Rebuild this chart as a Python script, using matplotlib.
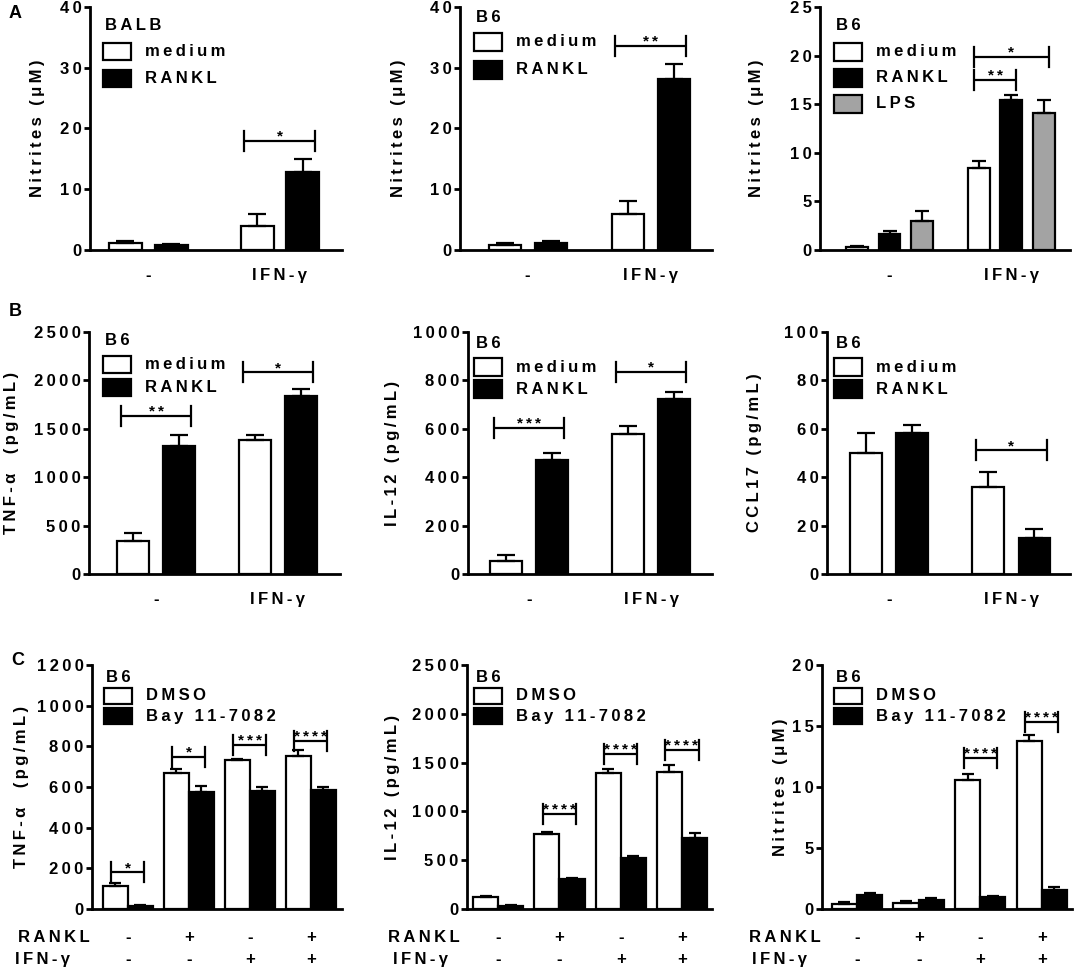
import matplotlib
matplotlib.use('Agg')
import matplotlib.pyplot as plt
from matplotlib.patches import Rectangle
import numpy as np

W, H = 1077, 972

plt.rcParams['font.family'] = ['Liberation Sans', 'DejaVu Sans']
plt.rcParams['font.weight'] = 'bold'
plt.rcParams['axes.labelweight'] = 'bold'
plt.rcParams['font.size'] = 12

# ---- data ----
ab_groups = ['-', 'IFN-γ']

a1_medium = [1.2, 4.0]
a1_medium_err = [0.3, 1.9]
a1_rankl = [0.8, 12.9]
a1_rankl_err = [0.2, 2.0]

a2_medium = [0.9, 5.9]
a2_medium_err = [0.2, 2.1]
a2_rankl = [1.1, 28.1]
a2_rankl_err = [0.4, 2.5]

a3_medium = [0.35, 8.4]
a3_medium_err = [0.1, 0.8]
a3_rankl = [1.6, 15.4]
a3_rankl_err = [0.4, 0.5]
a3_lps = [3.0, 14.1]
a3_lps_err = [1.05, 1.3]

b1_medium = [344, 1389]
b1_medium_err = [76, 52]
b1_rankl = [1324, 1840]
b1_rankl_err = [110, 69]

b2_medium = [55, 578]
b2_medium_err = [23, 33]
b2_rankl = [473, 725]
b2_rankl_err = [29, 27]

b3_medium = [49.8, 35.8]
b3_medium_err = [8.5, 6.4]
b3_rankl = [58.3, 15.0]
b3_rankl_err = [3.2, 3.6]

c_rankl = ['-', '+', '-', '+']
c_ifn = ['-', '-', '+', '+']

c1_dmso = [113, 667, 733, 752]
c1_dmso_err = [15, 22, 5, 32]
c1_bay = [16, 577, 580, 585]
c1_bay_err = [5, 26, 18, 17]

c2_dmso = [127, 771, 1394, 1401]
c2_dmso_err = [10, 17, 44, 72]
c2_bay = [31, 308, 524, 729]
c2_bay_err = [10, 10, 24, 48]

c3_dmso = [0.41, 0.49, 10.6, 13.78]
c3_dmso_err = [0.14, 0.19, 0.5, 0.52]
c3_bay = [1.18, 0.77, 0.96, 1.56]
c3_bay_err = [0.11, 0.13, 0.14, 0.22]

# significance: (group, bar i, bar j, height, stars)
a1_sig = [(1, 0, 1, 18, '*')]
a2_sig = [(1, 0, 1, 33.5, '**')]
a3_sig = [(1, 0, 2, 19.9, '*'), (1, 0, 1, 17.5, '**')]
b1_sig = [(0, 0, 1, 1630, '**'), (1, 0, 1, 2087, '*')]
b2_sig = [(0, 0, 1, 605, '***'), (1, 0, 1, 835, '*')]
b3_sig = [(1, 0, 1, 51.2, '*')]
c1_sig = [(0, 0, 1, 180, '*'), (1, 0, 1, 749, '*'), (2, 0, 1, 807, '***'), (3, 0, 1, 828, '****')]
c2_sig = [(1, 0, 1, 976, '****'), (2, 0, 1, 1592, '****'), (3, 0, 1, 1634, '****')]
c3_sig = [(2, 0, 1, 12.4, '****'), (3, 0, 1, 15.3, '****')]

WHITE, BLACK, GREY = 'white', 'black', '#a3a3a3'


def sp(s):
    # wide letter spacing like the original
    return '\u2009'.join(s)


fig = plt.figure(figsize=(W / 100, H / 100), dpi=100)


def fx(x):
    return x / W


def fy(y):
    return 1 - y / H


def panel(box, xlim, ymax, yticks, ylabel, label_x, series, errs, colors,
          width, offsets, cap, sig, ext, leg, title, names, n_groups):
    l, t, r, b = box
    ax = fig.add_axes([fx(l), fy(b), (r - l) / W, (b - t) / H])
    x = np.arange(n_groups)
    for vals, err, c, off in zip(series, errs, colors, offsets):
        ax.bar(x + off, vals, width, color=c, edgecolor='black', linewidth=1.6,
               yerr=[np.zeros(len(err)), err], capsize=cap, zorder=2,
               error_kw=dict(elinewidth=1.6, capthick=1.6, ecolor='black'))
    ax.set_xlim(*xlim)
    ax.set_ylim(0, ymax)
    ax.set_yticks(yticks)
    ax.set_yticklabels([sp(str(v)) for v in yticks], fontweight='bold')
    ax.spines[['top', 'right']].set_visible(False)
    ax.spines['left'].set_linewidth(2)
    ax.spines['bottom'].set_linewidth(2)
    ax.tick_params(axis='y', width=2, length=4, pad=2)
    ax.tick_params(axis='x', length=0, pad=13)
    ax.set_ylabel(sp(ylabel), va='center', fontweight='bold')
    ax.yaxis.set_label_coords((label_x - l) / (r - l), 0.5)

    # significance brackets
    d = 10 * ymax / (b - t)
    for g, i, j, h, stars in sig:
        x1 = g + offsets[i] - ext * width
        x2 = g + offsets[j] + ext * width
        ax.plot([x1, x2], [h, h], color='black', lw=1.6, solid_capstyle='butt')
        ax.plot([x1, x1], [h - d, h + d], color='black', lw=1.6)
        ax.plot([x2, x2], [h - d, h + d], color='black', lw=1.6)
        ax.text((x1 + x2) / 2, h, sp(stars), ha='center', va='baseline', fontsize=11)

    # legend drawn as boxes + text
    box_dx, b6_dy, box_dy, pitch, bh = leg
    fig.text(fx(l + box_dx + 2), fy(t + b6_dy), sp(title), ha='left', va='center')
    for k, (name, c) in enumerate(zip(names, colors)):
        top = t + box_dy + k * pitch
        fig.add_artist(Rectangle((fx(l + box_dx), fy(top + bh)), 28 / W, bh / H,
                                 facecolor=c, edgecolor='black', linewidth=1.6,
                                 transform=fig.transFigure))
        fig.text(fx(l + box_dx + 42), fy(top + bh / 2), sp(name), ha='left', va='center')
    return ax


# ---- row A ----
for box, xl, lx, ser, er, cols, w, offs, cap, sig, leg, title, names, ymax, yt in [
    ((90, 7, 342, 250), (-0.44, 1.47), 38, [a1_medium, a1_rankl], [a1_medium_err, a1_rankl_err],
     [WHITE, BLACK], 0.25, [-0.174, 0.174], 6.5, a1_sig, (13, 18, 36, 27, 17), 'BALB',
     ['medium', 'RANKL'], 40, [0, 10, 20, 30, 40]),
    ((460, 7, 712, 250), (-0.55, 1.50), 398, [a2_medium, a2_rankl], [a2_medium_err, a2_rankl_err],
     [WHITE, BLACK], 0.26, [-0.187, 0.187], 6.5, a2_sig, (14, 10, 26, 28, 18), 'B6',
     ['medium', 'RANKL'], 40, [0, 10, 20, 30, 40]),
    ((820, 7, 1070, 250), (-0.57, 1.48), 757, [a3_medium, a3_rankl, a3_lps],
     [a3_medium_err, a3_rankl_err, a3_lps_err], [WHITE, BLACK, GREY], 0.18, [-0.27, 0, 0.27], 4.8,
     a3_sig, (14, 18, 36, 26, 18), 'B6', ['medium', 'RANKL', 'LPS'], 25, [0, 5, 10, 15, 20, 25]),
]:
    ext = 0.2 if len(ser) == 3 else 0.38
    ax = panel(box, xl, ymax, yt, 'Nitrites (μM)', lx, ser, er, cols, w, offs, cap, sig, ext,
               leg, title, names, 2)
    ax.set_xticks([0, 1])
    ax.set_xticklabels([sp(g) for g in ab_groups], fontweight='bold')

# ---- row B ----
for box, xl, lx, ser, er, sig, leg, ylabel, ymax, yt in [
    ((89, 332, 340, 574), (-0.55, 1.51), 12, [b1_medium, b1_rankl], [b1_medium_err, b1_rankl_err],
     b1_sig, (14, 8, 24, 23, 17), 'TNF-α  (pg/mL)', 2500, [0, 500, 1000, 1500, 2000, 2500]),
    ((468, 332, 712, 574), (-0.50, 1.50), 393, [b2_medium, b2_rankl], [b2_medium_err, b2_rankl_err],
     b2_sig, (6, 11, 26, 22, 18), 'IL-12 (pg/mL)', 1000, [0, 200, 400, 600, 800, 1000]),
    ((827, 332, 1070, 574), (-0.51, 1.48), 754, [b3_medium, b3_rankl], [b3_medium_err, b3_rankl_err],
     b3_sig, (7, 11, 26, 22, 18), 'CCL17 (pg/mL)', 100, [0, 20, 40, 60, 80, 100]),
]:
    ax = panel(box, xl, ymax, yt, ylabel, lx, ser, er, [WHITE, BLACK], 0.26, [-0.189, 0.189], 6.5,
               sig, 0.38, leg, 'B6', ['medium', 'RANKL'], 2)
    ax.set_xticks([0, 1])
    ax.set_xticklabels([sp(g) for g in ab_groups], fontweight='bold')

# ---- row C ----
for box, xl, lx, ser, er, sig, leg, ylabel, ymax, yt, head_x in [
    ((92, 665, 342, 909), (-0.59, 3.51), 22, [c1_dmso, c1_bay], [c1_dmso_err, c1_bay_err], c1_sig,
     (12, 12, 23, 20, 16), 'TNF-α  (pg/mL)', 1200, [0, 200, 400, 600, 800, 1000, 1200], (18, 15)),
    ((467, 665, 712, 909), (-0.51, 3.49), 393, [c2_dmso, c2_bay], [c2_dmso_err, c2_bay_err], c2_sig,
     (7, 12, 23, 20, 16), 'IL-12 (pg/mL)', 2500, [0, 500, 1000, 1500, 2000, 2500], (388, 393)),
    ((822, 665, 1072, 909), (-0.57, 3.49), 780, [c3_dmso, c3_bay], [c3_dmso_err, c3_bay_err], c3_sig,
     (12, 12, 23, 20, 16), 'Nitrites (μM)', 20, [0, 5, 10, 15, 20], (749, 752)),
]:
    ax = panel(box, xl, ymax, yt, ylabel, lx, ser, er, [WHITE, BLACK], 0.41, [-0.205, 0.205], 4,
               sig, 0.16, leg, 'B6', ['DMSO', 'Bay 11-7082'], 4)
    ax.set_xticks([])
    for k in range(4):
        ax.annotate(c_rankl[k], xy=(k, 0), xycoords=ax.get_xaxis_transform(), xytext=(0, -28),
                    textcoords='offset pixels', ha='center', va='center')
        ax.annotate(c_ifn[k], xy=(k, 0), xycoords=ax.get_xaxis_transform(), xytext=(0, -50),
                    textcoords='offset pixels', ha='center', va='center')
    fig.text(fx(head_x[0]), fy(937), sp('RANKL'), ha='left', va='center')
    fig.text(fx(head_x[1]), fy(959), sp('IFN-γ'), ha='left', va='center')

# panel letters
fig.text(fx(15), fy(13), 'A', fontsize=13, ha='center', va='center')
fig.text(fx(15), fy(312), 'B', fontsize=13, ha='center', va='center')
fig.text(fx(18), fy(660), 'C', fontsize=13, ha='center', va='center')

fig.savefig('out.png', dpi=100)
